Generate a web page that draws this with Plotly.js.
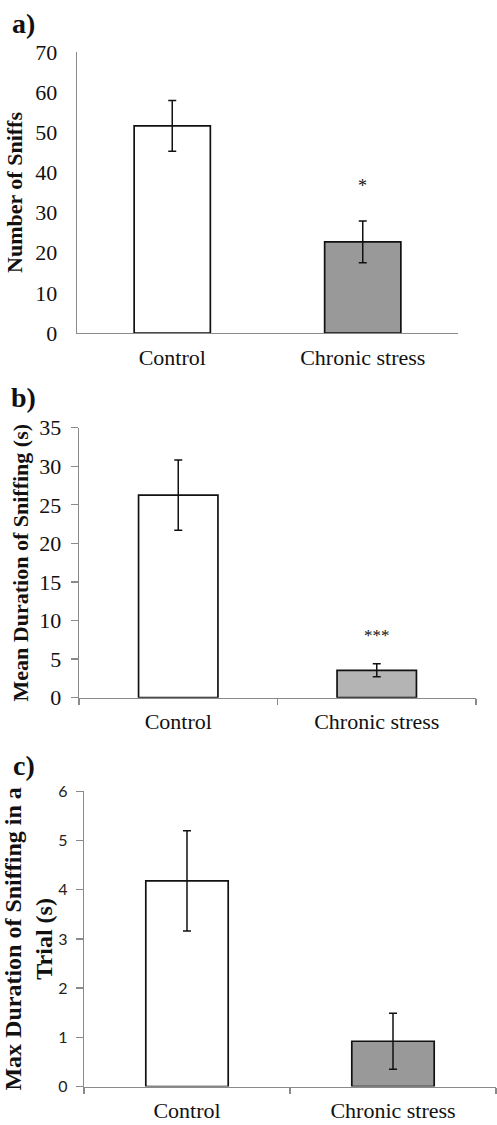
<!DOCTYPE html>
<html>
<head>
<meta charset="utf-8">
<script src="https://cdn.plot.ly/plotly-3.0.1.min.js"></script>
<style>html,body{margin:0;padding:0;background:#fff}#chart{width:497px;height:1125px}</style>
</head>
<body>
<div id="chart"></div>
<script>
// ---- data ----
const categories = ['Control', 'Chronic stress'];
const sniffCount = [51.6, 22.7];
const sniffCountErr = [6.3, 5.2];
const meanDuration = [26.25, 3.55];
const meanDurationErr = [4.55, 0.85];
const maxDuration = [4.18, 0.92];
const maxDurationErr = [1.02, 0.57];
const panelLabels = ['a)', 'b)', 'c)'];
const significance = ['*', '***'];

const serif = '"Liberation Serif", "Times New Roman", serif';
const sans = 'Lato, "Liberation Sans", sans-serif';
const axisGrey = '#8a8a8a';

function barTrace(vals, errs, colors, xa, ya) {
  return {
    type: 'bar', x: categories, y: vals, xaxis: xa, yaxis: ya, width: 0.4,
    marker: {color: colors, line: {color: '#111', width: 1.7}},
    error_y: {type: 'data', array: errs, visible: true, color: '#111', thickness: 1.5, width: 4},
    showlegend: false, hoverinfo: 'x+y'
  };
}

const data = [
  barTrace(sniffCount, sniffCountErr, ['#ffffff', '#999999'], 'x', 'y'),
  barTrace(meanDuration, meanDurationErr, ['#ffffff', '#b4b4b4'], 'x2', 'y2'),
  barTrace(maxDuration, maxDurationErr, ['#ffffff', '#999999'], 'x3', 'y3')
];

function xAxis(domain, anchor, ticks) {
  return {
    domain: domain, anchor: anchor, type: 'category', range: [-0.5, 1.5],
    showline: true, linecolor: axisGrey, linewidth: 1.3, showgrid: false, zeroline: false,
    ticks: ticks ? 'outside' : '', tickson: 'boundaries', ticklen: 6, tickcolor: axisGrey, tickwidth: 1.3,
    tickfont: {family: serif, size: 22, color: '#111'}, ticklabelstandoff: 4, fixedrange: true
  };
}
function yAxis(domain, anchor, range, dtick, tickfont, ticks, title, titleSize, standoff) {
  return {
    domain: domain, anchor: anchor, range: range, dtick: dtick,
    showline: true, linecolor: axisGrey, linewidth: 1.3, showgrid: false, zeroline: false,
    ticks: ticks ? 'outside' : '', ticklen: 7, tickcolor: axisGrey, tickwidth: 1.3,
    tickfont: tickfont, ticklabelstandoff: ticks ? 5 : 14,
    title: {text: title, font: {family: serif, size: titleSize, color: '#111', weight: 'bold'}, standoff: standoff},
    fixedrange: true
  };
}

const W = 497, H = 1125;
const px = v => v / W, py = v => 1 - v / H;

const layout = {
  width: W, height: H,
  margin: {l: 0, r: 0, t: 0, b: 0},
  paper_bgcolor: '#fff', plot_bgcolor: '#fff',
  bargap: 0.6,
  xaxis: xAxis([px(77), px(458)], 'y', false),
  yaxis: yAxis([py(333), py(52)], 'x', [0, 70], 10, {family: serif, size: 22, color: '#111'}, false, 'Number of Sniffs', 22, 6),
  xaxis2: xAxis([px(79), px(476)], 'y2', true),
  yaxis2: yAxis([py(697.7), py(427.7)], 'x2', [0, 35], 5, {family: serif, size: 22, color: '#111'}, true, 'Mean Duration of Sniffing (s)', 22, 4),
  xaxis3: xAxis([px(84), px(496)], 'y3', true),
  yaxis3: yAxis([py(1086.5), py(791.3)], 'x3', [0, 6], 1, {family: sans, size: 16, color: '#222'}, true, 'Max Duration of Sniffing in a<br>Trial (s)', 24, 6),
  annotations: [
    {text: panelLabels[0], xref: 'paper', yref: 'paper', x: px(10), y: py(6), xanchor: 'left', yanchor: 'top', showarrow: false, font: {family: serif, size: 28, color: '#111', weight: 'bold'}},
    {text: panelLabels[1], xref: 'paper', yref: 'paper', x: px(9), y: py(380), xanchor: 'left', yanchor: 'top', showarrow: false, font: {family: serif, size: 28, color: '#111', weight: 'bold'}},
    {text: panelLabels[2], xref: 'paper', yref: 'paper', x: px(11), y: py(748), xanchor: 'left', yanchor: 'top', showarrow: false, font: {family: serif, size: 28, color: '#111', weight: 'bold'}},
    {text: significance[0], xref: 'x', yref: 'y', x: categories[1], y: 36.5, showarrow: false, font: {family: serif, size: 18, color: '#111'}},
    {text: significance[1], xref: 'x2', yref: 'y2', x: categories[1], y: 8.0, showarrow: false, font: {family: serif, size: 17, color: '#111'}}
  ]
};

Plotly.newPlot('chart', data, layout, {displayModeBar: false, staticPlot: true});
</script>
</body>
</html>
